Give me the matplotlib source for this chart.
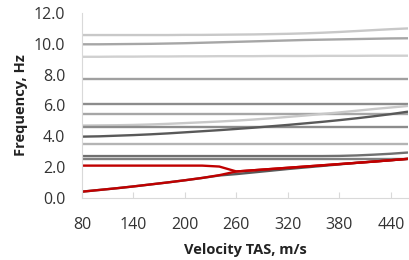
import matplotlib
matplotlib.use("Agg")
import matplotlib.pyplot as plt
import numpy as np

plt.rcParams['font.family'] = ['Open Sans', 'DejaVu Sans']

velocity = [80, 100, 120, 140, 160, 180, 200, 220, 240, 260,
            280, 300, 320, 340, 360, 380, 400, 420, 440, 460]

gray_series = [
    # (values, colour)
    ([10.57, 10.57, 10.57, 10.57, 10.57, 10.57, 10.58, 10.58, 10.59, 10.60,
      10.61, 10.63, 10.65, 10.68, 10.72, 10.77, 10.83, 10.89, 10.95, 11.00], "#c8c8c8"),
    ([9.97, 9.97, 9.98, 9.99, 10.00, 10.02, 10.04, 10.07, 10.10, 10.13,
      10.16, 10.19, 10.22, 10.25, 10.27, 10.29, 10.31, 10.33, 10.35, 10.36], "#a6a6a6"),
    ([9.16, 9.16, 9.17, 9.17, 9.18, 9.18, 9.19, 9.19, 9.20, 9.20,
      9.20, 9.21, 9.21, 9.21, 9.22, 9.22, 9.22, 9.23, 9.23, 9.23], "#d0d0d0"),
    ([7.74] * 20, "#a0a0a0"),
    ([6.10] * 20, "#8c8c8c"),
    ([5.45] * 20, "#a6a6a6"),
    ([4.70, 4.71, 4.72, 4.74, 4.77, 4.81, 4.86, 4.91, 4.96, 5.02,
      5.09, 5.17, 5.26, 5.35, 5.45, 5.55, 5.66, 5.77, 5.87, 5.97], "#c8c8c8"),
    ([4.58] * 20, "#8c8c8c"),
    ([3.98, 4.00, 4.04, 4.08, 4.13, 4.19, 4.26, 4.33, 4.40, 4.48,
      4.56, 4.65, 4.74, 4.84, 4.94, 5.05, 5.17, 5.30, 5.44, 5.60], "#595959"),
    ([3.52] * 20, "#b4b4b4"),
    ([2.72, 2.72, 2.72, 2.72, 2.72, 2.72, 2.72, 2.72, 2.72, 2.72,
      2.72, 2.72, 2.72, 2.72, 2.72, 2.73, 2.76, 2.81, 2.87, 2.95], "#707070"),
    ([2.50] * 20, "#808080"),
    ([0.41, 0.52, 0.63, 0.75, 0.88, 1.01, 1.15, 1.30, 1.46, 1.55,
      1.66, 1.77, 1.88, 1.98, 2.08, 2.18, 2.28, 2.37, 2.45, 2.54], "#595959"),
]

red_upper = [2.10, 2.10, 2.10, 2.10, 2.10, 2.10, 2.10, 2.10, 2.04, 1.72,
             1.80, 1.88, 1.96, 2.04, 2.12, 2.20, 2.28, 2.36, 2.45, 2.54]
red_lower = [0.41, 0.52, 0.63, 0.75, 0.88, 1.01, 1.15, 1.30, 1.48, 1.72,
             1.80, 1.88, 1.96, 2.04, 2.12, 2.20, 2.28, 2.36, 2.45, 2.54]

yticks = [0.0, 2.0, 4.0, 6.0, 8.0, 10.0, 12.0]
xticks = [80, 140, 200, 260, 320, 380, 440]

fig = plt.figure(figsize=(4.09, 2.60), dpi=100)
ax = fig.add_axes([0.2005, 0.2385, 0.7971, 0.7115])

for vals, col in gray_series:
    ax.plot(velocity, vals, color=col, lw=1.7, solid_capstyle='butt')
ax.plot(velocity, red_upper, color="#c00000", lw=1.7)
ax.plot(velocity, red_lower, color="#c00000", lw=1.7)

ax.set_xlim(80, 460)
ax.set_ylim(0, 12)
ax.set_yticks(yticks)
ax.set_yticklabels([f"{v:.1f}" for v in yticks])
ax.set_xticks(xticks)
ax.set_xticklabels([str(v) for v in xticks])

for s in ['top', 'right']:
    ax.spines[s].set_visible(False)
for s in ['left', 'bottom']:
    ax.spines[s].set_color('#d9d9d9')
    ax.spines[s].set_linewidth(0.8)

ax.tick_params(axis='y', length=0, pad=12, labelsize=11.5, labelcolor='#333333')
ax.tick_params(axis='x', direction='in', length=4, color='#d9d9d9', pad=14,
               labelsize=11.5, labelcolor='#333333')

ax.set_xlabel("Velocity TAS, m/s", fontsize=10.5, fontweight='bold', color='#222222', labelpad=7)
ax.set_ylabel("Frequency, Hz", fontsize=10.5, fontweight='bold', color='#222222', labelpad=4)

fig.savefig("out.png", dpi=100)
